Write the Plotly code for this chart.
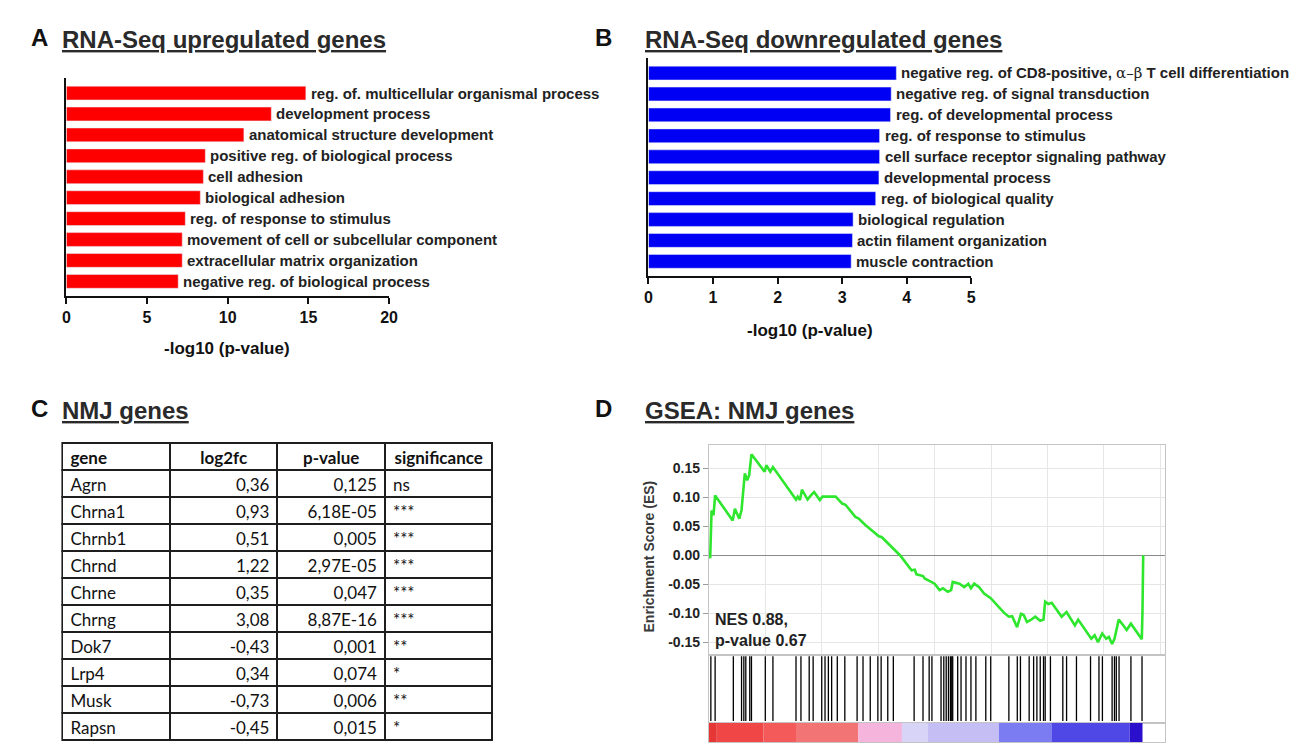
import plotly.graph_objects as go

W, H = 1300, 755


def fx(p):
    return p / W


def fy(p):
    return 1 - p / H


# ---------------- data ----------------
up_terms = [
    "reg. of. multicellular organismal process",
    "development process",
    "anatomical structure development",
    "positive reg. of biological process",
    "cell adhesion",
    "biological adhesion",
    "reg. of response to stimulus",
    "movement of cell or subcellular component",
    "extracellular matrix organization",
    "negative reg. of biological process",
]
up_values = [14.84, 12.7, 11.0, 8.61, 8.49, 8.30, 7.37, 7.18, 7.18, 6.93]

down_terms = [
    "negative reg. of CD8-positive, α–β T cell differentiation",
    "negative reg. of signal transduction",
    "reg. of developmental process",
    "reg. of response to stimulus",
    "cell surface receptor signaling pathway",
    "developmental process",
    "reg. of biological quality",
    "biological regulation",
    "actin filament organization",
    "muscle contraction",
]
down_values = [3.84, 3.76, 3.75, 3.58, 3.58, 3.57, 3.52, 3.17, 3.16, 3.14]

table_header = ["gene", "log2fc", "p-value", "significance"]
genes = ["Agrn", "Chrna1", "Chrnb1", "Chrnd", "Chrne", "Chrng", "Dok7", "Lrp4", "Musk", "Rapsn"]
log2fc = ["0,36", "0,93", "0,51", "1,22", "0,35", "3,08", "-0,43", "0,34", "-0,73", "-0,45"]
pvalues = ["0,125", "6,18E-05", "0,005", "2,97E-05", "0,047", "8,87E-16", "0,001", "0,074", "0,006", "0,015"]
significance = ["ns", "***", "***", "***", "***", "***", "**", "*", "**", "*"]

es_rank = [25, 46, 95, 165, 221, 842, 923, 1077, 1158, 1274, 1358, 1428, 1509, 1975, 2035,
           2175, 2270, 3088, 3147, 3228, 3298, 3498, 3614, 3730, 3930, 4025, 4491, 4726, 4842,
           5193, 5309, 5544, 5895, 6011, 6130, 6481, 6596, 6772, 7183, 7298, 7358, 7589, 7649,
           8000, 8175, 8291, 8467, 8586, 8642, 8877, 9053, 9193, 9288, 9404, 9579, 9754, 9989,
           10105, 10456, 10632, 10748, 10923, 11063, 11158, 11274, 11393, 11568, 11744, 11860,
           11919, 12035, 12151, 12502, 12677, 12972, 13088, 13554, 13674, 13790, 13940, 14081,
           14175, 14291, 14375, 14526, 14691, 14807, 14958, 15344, 15368, 15393]
es_score = [0.0, -0.005, 0.077, 0.069, 0.103, 0.060, 0.080, 0.063, 0.078, 0.141, 0.129, 0.138,
            0.174, 0.144, 0.155, 0.144, 0.152, 0.096, 0.101, 0.095, 0.113, 0.096, 0.103, 0.109,
            0.095, 0.101, 0.101, 0.089, 0.087, 0.066, 0.063, 0.052, 0.038, 0.033, 0.031, 0.014,
            0.010, 0.0, -0.026, -0.025, -0.033, -0.036, -0.040, -0.049, -0.060, -0.057, -0.063,
            -0.060, -0.046, -0.049, -0.055, -0.049, -0.057, -0.049, -0.055, -0.066, -0.074,
            -0.080, -0.099, -0.106, -0.105, -0.124, -0.101, -0.103, -0.115, -0.112, -0.106,
            -0.113, -0.111, -0.080, -0.084, -0.082, -0.106, -0.098, -0.121, -0.111, -0.144,
            -0.138, -0.150, -0.135, -0.144, -0.141, -0.153, -0.144, -0.111, -0.121, -0.129,
            -0.118, -0.145, -0.095, 0.0]

hit_ranks = [70, 221, 867, 1158, 1239, 1309, 1449, 1509, 2000, 2270, 3088, 3263, 3555, 3695,
             4000, 4116, 4235, 4351, 4551, 4818, 5253, 5463, 5719, 5989, 6105, 6340, 6537, 7274,
             7589, 7807, 7905, 8228, 8326, 8411, 8491, 8561, 8607, 8642, 8818, 8937, 9112, 9288,
             9463, 9814, 9989, 10632, 10930, 11042, 11351, 11509, 11625, 11744, 11860, 11919,
             12105, 12544, 12677, 13028, 13526, 13825, 13947, 14291, 14375, 14439, 14537, 14958,
             15351]

rank_bar_edges = [0, 280, 1930, 3088, 5298, 6842, 7754, 10281, 12140, 14912, 15368]
rank_bar_colors = ["#e63636", "#f04646", "#f45a5a", "#f27474", "#f5b4dc", "#d8d4f8",
                   "#c4bef4", "#7c7cf2", "#5048e6", "#2a10cc"]

rank_max = 16175

# ---------------- figure ----------------
fig = go.Figure()

fig.add_trace(go.Bar(x=up_values, y=up_terms, orientation="h", marker_color="#ff0000",
                     width=0.66, xaxis="x", yaxis="y", hoverinfo="skip"))
fig.add_trace(go.Bar(x=down_values, y=down_terms, orientation="h", marker_color="#0000f5",
                     width=0.66, xaxis="x2", yaxis="y2", hoverinfo="skip"))

fig.add_trace(go.Scatter(x=es_rank, y=es_score, mode="lines",
                         line=dict(color="#2ee62e", width=2.6), xaxis="x3", yaxis="y3",
                         hoverinfo="skip"))

rx, ry = [], []
for r in hit_ranks:
    rx += [r, r, None]
    ry += [0.03, 0.98, None]
fig.add_trace(go.Scatter(x=rx, y=ry, mode="lines", line=dict(color="#000000", width=1.3),
                         xaxis="x4", yaxis="y4", hoverinfo="skip"))

cb_x = [(a + b) / 2 for a, b in zip(rank_bar_edges[:-1], rank_bar_edges[1:])]
cb_w = [b - a for a, b in zip(rank_bar_edges[:-1], rank_bar_edges[1:])]
fig.add_trace(go.Bar(x=cb_x, y=[1] * len(cb_x), width=cb_w, marker=dict(color=rank_bar_colors,
                     line=dict(width=0)), xaxis="x5", yaxis="y5", hoverinfo="skip"))

fig.add_trace(go.Table(
    domain=dict(x=[fx(59), fx(494)], y=[fy(746), fy(443)]),
    columnwidth=[1, 1, 1, 1],
    header=dict(values=table_header,
                align=["left", "center", "center", "center"], height=27,
                line=dict(color="#1e1e1e", width=2), fill_color="white",
                font=dict(family="Lato, Open Sans", size=17, color="#111111",
                          weight="bold")),
    cells=dict(values=[genes, log2fc, pvalues, significance],
               align=["left", "right", "right", "left"], height=27,
               line=dict(color="#1e1e1e", width=2), fill_color="white",
               font=dict(family="Lato, Open Sans", size=17, color="#111111")),
))

axis_font = dict(family="Liberation Sans, Arial", size=16, color="#111111", weight="bold")
common_bar_x = dict(showline=True, linewidth=2, linecolor="#111111", ticks="outside",
                    ticklen=6, tickwidth=2, tickcolor="#111111", showgrid=False,
                    zeroline=False, tickfont=axis_font, fixedrange=True)
common_bar_y = dict(type="category", showline=True, linewidth=2, linecolor="#111111",
                    ticks="", showticklabels=False, showgrid=False, zeroline=False,
                    range=[9.7, -0.72], fixedrange=True)

gray_line = "#c4c4c4"
grid = "#e6e6e6"
es_ticks = [0.15, 0.10, 0.05, 0.0, -0.05, -0.10, -0.15]
es_ticktext = ["%.2f" % v for v in es_ticks]

fig.update_layout(
    width=W, height=H, margin=dict(l=0, r=0, t=0, b=0),
    paper_bgcolor="white", plot_bgcolor="white", showlegend=False, barmode="overlay",
    font=dict(family="Liberation Sans, Arial", color="#222222"),
    xaxis=dict(domain=[fx(63), fx(389)], range=[0, 20], tickvals=[0, 5, 10, 15, 20],
               anchor="y", **common_bar_x),
    yaxis=dict(domain=[fy(296), fy(78)], anchor="x", **common_bar_y),
    xaxis2=dict(domain=[fx(651), fx(977)], range=[0, 5], tickvals=[0, 1, 2, 3, 4, 5],
                anchor="y2", **common_bar_x),
    yaxis2=dict(domain=[fy(276), fy(58)], anchor="x2", **common_bar_y),
    xaxis3=dict(domain=[fx(712), fx(1173)], range=[0, rank_max], anchor="y3",
                tick0=0, dtick=2000, showgrid=True, gridcolor=grid, gridwidth=1,
                showticklabels=False, ticks="", showline=True, mirror=True,
                linecolor=gray_line, linewidth=1, zeroline=False, fixedrange=True),
    yaxis3=dict(domain=[fy(655), fy(445)], range=[-0.172, 0.19], anchor="x3",
                tickvals=es_ticks, ticktext=es_ticktext, showgrid=True, gridcolor=grid,
                zeroline=True, zerolinecolor="#8a8a8a", zerolinewidth=1.2,
                showline=True, mirror=True, linecolor=gray_line, linewidth=1,
                ticks="outside", ticklen=5, tickcolor="#9a9a9a",
                tickfont=dict(family="Liberation Sans, Arial", size=14, color="#222222",
                              weight="bold"), fixedrange=True),
    xaxis4=dict(domain=[fx(712), fx(1173)], range=[0, rank_max], anchor="y4",
                showgrid=False, showticklabels=False, ticks="", showline=True, mirror=True,
                linecolor=gray_line, linewidth=1, zeroline=False, fixedrange=True),
    yaxis4=dict(domain=[fy(723), fy(655)], range=[0, 1], anchor="x4", showgrid=False,
                showticklabels=False, ticks="", showline=True, mirror=True,
                linecolor=gray_line, linewidth=1, zeroline=False, fixedrange=True),
    xaxis5=dict(domain=[fx(712), fx(1173)], range=[0, rank_max], anchor="y5",
                showgrid=False, showticklabels=False, ticks="", showline=True, mirror=True,
                linecolor=gray_line, linewidth=1, zeroline=False, fixedrange=True),
    yaxis5=dict(domain=[fy(742), fy(723)], range=[0, 1], anchor="x5", showgrid=False,
                showticklabels=False, ticks="", showline=True, mirror=True,
                linecolor=gray_line, linewidth=1, zeroline=False, fixedrange=True),
)

ann = []
label_font = dict(family="Liberation Sans, Arial", size=15, color="#222222", weight="bold")
greek_span = ("<span style=\"font-family:'DejaVu Serif';font-weight:normal\">"
              "α–β</span>")
for t, v in zip(up_terms, up_values):
    ann.append(dict(x=v, y=t, xref="x", yref="y", text=t, showarrow=False,
                    xanchor="left", yanchor="middle", xshift=3, font=label_font))
for t, v in zip(down_terms, down_values):
    ann.append(dict(x=v, y=t, xref="x2", yref="y2", text=t.replace("α–β", greek_span),
                    showarrow=False, xanchor="left", yanchor="middle", xshift=3,
                    font=label_font))

letter_font = dict(family="Liberation Sans, Arial", size=24, color="#111111", weight="bold")
title_font = dict(family="Liberation Sans, Arial", size=24, color="#2a2a2a", weight="bold")
for letter, lx, ly in [("A", 25, 38), ("B", 595, 38), ("C", 25, 409), ("D", 595, 409)]:
    ann.append(dict(x=fx(lx), y=fy(ly), xref="paper", yref="paper", text=letter,
                    showarrow=False, xanchor="left", yanchor="middle", font=letter_font))
for title, tx, ty in [("RNA-Seq upregulated genes", 57, 39),
                      ("RNA-Seq downregulated genes", 645, 39),
                      ("NMJ genes", 57, 410),
                      ("GSEA: NMJ genes", 645, 410)]:
    ann.append(dict(x=fx(tx), y=fy(ty), xref="paper", yref="paper",
                    text="<u>%s</u>" % title, showarrow=False, xanchor="left",
                    yanchor="middle", font=title_font))

xt_font = dict(family="Liberation Sans, Arial", size=17, color="#111111", weight="bold")
ann.append(dict(x=fx(225), y=fy(348), xref="paper", yref="paper", text="-log10 (p-value)",
                showarrow=False, xanchor="center", yanchor="middle", font=xt_font))
ann.append(dict(x=fx(814), y=fy(330), xref="paper", yref="paper", text="-log10 (p-value)",
                showarrow=False, xanchor="center", yanchor="middle", font=xt_font))

ann.append(dict(x=fx(652), y=fy(556), xref="paper", yref="paper",
                text="Enrichment Score (ES)", textangle=-90, showarrow=False,
                xanchor="center", yanchor="middle",
                font=dict(family="Liberation Sans, Arial", size=14, color="#3a3a3a",
                          weight="bold")))
ann.append(dict(x=fx(716), y=fy(630), xref="paper", yref="paper",
                text="NES 0.88,<br>p-value 0.67", showarrow=False, align="left",
                xanchor="left", yanchor="middle",
                font=dict(family="Liberation Sans, Arial", size=16, color="#222222",
                          weight="bold")))

fig.update_layout(annotations=ann)

fig.write_html("out.html", config={"displayModeBar": False},
               post_script="document.body.style.margin='0';"
                           "document.body.style.overflow='hidden';")
